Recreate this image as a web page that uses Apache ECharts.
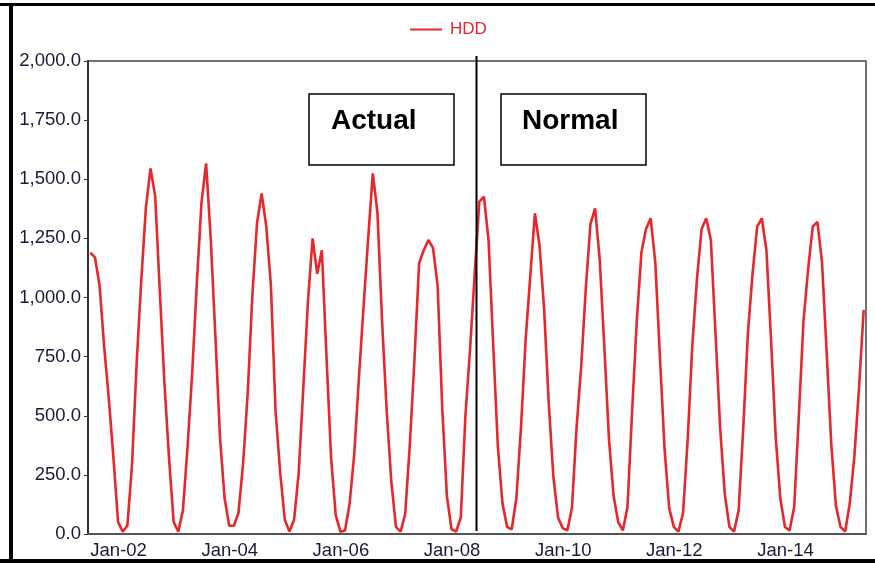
<!DOCTYPE html>
<html>
<head>
<meta charset="utf-8">
<script src="https://cdn.jsdelivr.net/npm/echarts@6/dist/echarts.min.js"></script>
<style>
html,body{margin:0;padding:0;background:#fff;}
#c{width:875px;height:563px;}
</style>
</head>
<body>
<div id="c"></div>
<script>
// Monthly categories Jan-02 .. Dec-15
const monthNames = ['Jan','Feb','Mar','Apr','May','Jun','Jul','Aug','Sep','Oct','Nov','Dec'];
const years = ['02','03','04','05','06','07','08','09','10','11','12','13','14','15'];
const tickLabels = ['Jan-02','Jan-04','Jan-06','Jan-08','Jan-10','Jan-12','Jan-14'];
const seriesName = 'HDD';
const hdd = [
  1190,1170,1050,790,570,320,50,10,35,290,720,1070,
  1380,1546,1430,1030,640,320,50,10,100,370,680,1060,
  1400,1567,1250,840,410,150,35,35,90,300,600,1010,
  1315,1440,1300,1050,520,260,60,10,60,260,620,985,
  1250,1100,1200,750,320,80,10,15,130,340,660,960,
  1250,1525,1360,900,520,220,30,10,85,380,740,1145,
  1200,1243,1210,1050,530,160,20,10,70,500,780,1100,
  1405,1426,1240,800,370,130,30,20,150,450,820,1090,
  1356,1220,950,550,240,70,25,15,110,450,710,1040,
  1310,1377,1160,790,400,160,50,15,115,520,900,1190,
  1290,1335,1150,750,360,110,30,10,90,400,800,1080,
  1290,1335,1243,850,450,170,30,10,100,450,850,1100,
  1300,1335,1200,820,410,150,30,15,115,500,900,1120,
  1300,1320,1150,770,380,120,30,10,130,330,620,947
];
const yTicks = {min:0, max:2000, interval:250};

const categories = [];
years.forEach(y => monthNames.forEach(m => categories.push(m + '-' + y)));

const chart = echarts.init(document.getElementById('c'), null, {renderer:'canvas'});
const font = 'Liberation Sans, Arial, sans-serif';
chart.setOption({
  animation:false,
  backgroundColor:'#fff',
  legend:{
    data:[seriesName], left:405, top:16, itemWidth:32, itemHeight:14,
    icon:'path://M0,6L32,6L32,8L0,8Z',
    textStyle:{color:'#e8262b', fontSize:17, fontFamily:font, padding:[0,0,0,3]}
  },
  grid:{left:88, right:9, top:61, bottom:29, show:true, borderColor:'#444', borderWidth:1.5},
  xAxis:{
    type:'category', data:categories, boundaryGap:true,
    axisLine:{lineStyle:{color:'#555', width:2}},
    axisTick:{interval:23, length:4, lineStyle:{color:'#333'}},
    axisLabel:{
      interval:23, align:'left', margin:7, color:'#1a1a38', fontSize:18.5, fontFamily:font,
      formatter:(v)=> tickLabels.indexOf(v) >= 0 ? v : ''
    },
    splitLine:{show:false}
  },
  yAxis:{
    type:'value', min:yTicks.min, max:yTicks.max, interval:yTicks.interval,
    axisLine:{show:true, lineStyle:{color:'#333', width:2}},
    axisTick:{show:true, length:4, lineStyle:{color:'#333'}},
    axisLabel:{color:'#1a1a38', fontSize:18.5, fontFamily:font, margin:7,
      formatter:(v)=> v.toLocaleString('en-US',{minimumFractionDigits:1, maximumFractionDigits:1})},
    splitLine:{show:false}
  },
  series:[{
    name:seriesName, type:'line', data:hdd, symbol:'none', smooth:false,
    lineStyle:{color:'#e8262b', width:2.6}, itemStyle:{color:'#e8262b'}
  }],
  graphic:[
    {type:'rect', shape:{x:0,y:3,width:875,height:3}, style:{fill:'#000'}},
    {type:'rect', shape:{x:9,y:3,width:4,height:560}, style:{fill:'#000'}},
    {type:'rect', shape:{x:0,y:559,width:875,height:4}, style:{fill:'#000'}},
    {type:'line', shape:{x1:476.5,y1:56,x2:476.5,y2:531}, style:{stroke:'#000', lineWidth:2}, z:10},
    {type:'rect', shape:{x:309,y:94,width:145,height:71}, style:{fill:'#fff', stroke:'#000', lineWidth:1.5}, z:10},
    {type:'rect', shape:{x:501,y:94,width:145,height:71}, style:{fill:'#fff', stroke:'#000', lineWidth:1.5}, z:10},
    {type:'text', x:331, y:121, style:{text:'Actual', fill:'#000', font:'bold 28px Liberation Sans, Arial, sans-serif', verticalAlign:'middle'}, z:11},
    {type:'text', x:522, y:121, style:{text:'Normal', fill:'#000', font:'bold 28px Liberation Sans, Arial, sans-serif', verticalAlign:'middle'}, z:11}
  ]
});
</script>
</body>
</html>
